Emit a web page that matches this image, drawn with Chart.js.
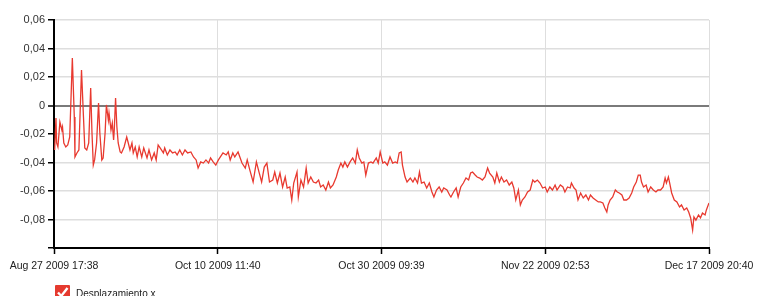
<!DOCTYPE html>
<html><head><meta charset="utf-8">
<script src="https://cdn.jsdelivr.net/npm/chart.js@4"></script>
<style>
html,body{margin:0;padding:0;background:#fff;overflow:hidden;}
#wrap{position:relative;width:762px;height:296px;overflow:hidden;}
#legend{position:absolute;left:55px;top:285px;display:flex;align-items:flex-start;font-family:"Liberation Sans",Arial,sans-serif;font-size:10px;color:#222;}
#legend .txt{margin-left:6px;margin-top:3px;}
</style></head><body>
<div id="wrap"><canvas id="c" width="762" height="296"></canvas>
<div id="legend"><svg width="15" height="15" viewBox="0 0 15 15"><rect x="0" y="0" width="15" height="15" rx="1" fill="#e53a2f"/><path d="M3 7.5 L6.3 11 L12.5 3" stroke="#fff" stroke-width="2.4" fill="none"/></svg><span class="txt">Desplazamiento x</span></div></div>
<script>
// sample position along the recorded series (0 = first reading, 1000 = last)
const samplePos = [1,3,4,6,9,12,13,15,18,21,24,28,31,32,35,38,42,45,47,50,53,56,58,60,62,65,68,70,73,75,78,80,83,84,87,89,91,92,94,96,98,101,103,107,111,113,116,119,121,124,127,130,134,137,142,145,149,153,156,159,162,
167,169,173,177,181,185,188,192,196,200,204,209,213,217,220,224,228,232,236,239,243,247,251,254,258,263,266,269,273,276,281,287,292,295,299,304,309,313,317,321,325,329,
334,337,341,345,349,353,356,360,363,366,371,373,377,381,385,388,392,396,400,404,407,411,415,419,422,426,431,434,438,441,444,448,452,456,460,463,466,470,473,476,480,484,487,492,495,498,502,505,
509,513,517,521,524,527,530,532,536,539,544,548,551,555,558,561,565,569,573,577,580,584,588,592,595,600,604,606,610,614,617,621,625,629,633,636,639,643,646,650,654,658,662,665,
670,673,676,680,683,687,691,695,699,702,705,709,712,715,719,723,727,731,734,738,742,746,750,753,757,761,765,768,773,777,780,784,788,790,794,797,800,804,808,812,816,819,823,827,831,
834,838,841,844,846,849,853,857,860,863,867,870,874,878,882,885,889,892,895,897,900,904,907,911,915,919,922,926,930,933,935,938,940,943,947,951,955,958,962,966,969,972,975,977,980,984,987,990,994,996,1000];
const desplazamientoX = [-0.0312,-0.0088,-0.0263,-0.0291,-0.0116,-0.0172,-0.0151,-0.0263,-0.0291,-0.0277,-0.0221,0.0333,-0.0081,-0.0361,-0.0333,-0.0312,0.0249,-0.0081,-0.0298,-0.0312,-0.0263,0.0123,-0.0193,-0.0418,-0.0382,-0.0263,0.0018,-0.0193,-0.0382,-0.0368,-0.0193,0.0004,-0.0102,-0.0053,-0.0172,-0.0123,-0.0242,-0.0172,0.0053,-0.0151,-0.0263,-0.0326,-0.0333,-0.0291,-0.0221,-0.0256,-0.0312,-0.0263,-0.0333,-0.0291,-0.0361,-0.0291,-0.0361,-0.0298,-0.0368,-0.0312,-0.0382,-0.0333,-0.0382,-0.0277,-0.0298,
-0.0333,-0.0298,-0.0347,-0.0312,-0.0333,-0.0326,-0.0347,-0.0312,-0.0347,-0.0312,-0.0333,-0.0326,-0.0361,-0.0382,-0.0439,-0.0396,-0.0404,-0.0382,-0.0404,-0.0368,-0.0396,-0.0418,-0.0382,-0.0361,-0.0333,-0.0347,-0.0326,-0.0382,-0.0333,-0.0361,-0.0326,-0.0404,-0.0439,-0.0382,-0.0453,-0.0537,-0.0396,-0.0467,-0.0537,-0.0432,-0.0404,-0.0537,
-0.0523,-0.0467,-0.0544,-0.0474,-0.0572,-0.0502,-0.0579,-0.0572,-0.0663,-0.0544,-0.0467,-0.0642,-0.0523,-0.0572,-0.0439,-0.0544,-0.0502,-0.0537,-0.0544,-0.0523,-0.0572,-0.0558,-0.0593,-0.0537,-0.0579,-0.0558,-0.0502,-0.0453,-0.0404,-0.0432,-0.0396,-0.0432,-0.0396,-0.0368,-0.0404,-0.0312,-0.0368,-0.0404,-0.0396,-0.0488,-0.0404,-0.0396,-0.0404,-0.0368,-0.0404,-0.0326,-0.0404,-0.0396,
-0.0418,-0.0361,-0.0404,-0.0396,-0.0404,-0.0333,-0.0326,-0.0418,-0.0502,-0.0537,-0.0509,-0.0537,-0.0509,-0.0544,-0.0467,-0.0544,-0.0537,-0.0579,-0.0544,-0.0607,-0.0642,-0.0593,-0.0572,-0.0607,-0.0579,-0.0593,-0.0628,-0.0642,-0.0607,-0.0579,-0.0642,-0.0572,-0.0544,-0.0509,-0.0523,-0.0474,-0.0467,-0.0488,-0.0502,-0.0509,-0.0523,-0.0502,-0.0439,-0.0474,
-0.0502,-0.0544,-0.0474,-0.0537,-0.0502,-0.0537,-0.0523,-0.0558,-0.0537,-0.0579,-0.0663,-0.0593,-0.0698,-0.0663,-0.0642,-0.0607,-0.0593,-0.0523,-0.0537,-0.0523,-0.0544,-0.0579,-0.0572,-0.0607,-0.0572,-0.0593,-0.0558,-0.0593,-0.0558,-0.0572,-0.0607,-0.0572,-0.0579,-0.0544,-0.0579,-0.0593,-0.0663,-0.0614,-0.0649,-0.0628,-0.0663,-0.0628,-0.0649,-0.0663,-0.0677,
-0.0677,-0.0684,-0.0719,-0.0747,-0.0698,-0.0663,-0.0642,-0.0593,-0.0607,-0.0614,-0.0628,-0.0663,-0.0663,-0.0649,-0.0614,-0.0572,-0.0537,-0.0488,-0.0488,-0.0537,-0.0572,-0.0558,-0.0607,-0.0572,-0.0593,-0.0607,-0.0593,-0.0593,-0.0572,-0.0509,-0.0544,-0.0502,-0.0544,-0.0614,-0.0663,-0.0677,-0.0712,-0.0698,-0.0733,-0.0719,-0.0747,-0.0789,-0.0874,-0.0782,-0.0804,-0.0768,-0.0789,-0.0754,-0.0768,-0.0733,-0.0684];
const xTickPositions = [0,250,500,750,1000];
const xTickLabels = ['Aug 27 2009 17:38','Oct 10 2009 11:40','Oct 30 2009 09:39','Nov 22 2009 02:53','Dec 17 2009 20:40'];
const yTickValues = [-0.1,-0.08,-0.06,-0.04,-0.02,0,0.02,0.04,0.06];

const FONT = '"Liberation Sans", Arial, sans-serif';
new Chart(document.getElementById('c'), {
  type: 'line',
  data: { datasets: [{
    label: 'Desplazamiento x',
    data: samplePos.map((x, i) => ({ x, y: desplazamientoX[i] })),
    borderColor: '#e8392f', borderWidth: 1.3, pointRadius: 0, tension: 0, fill: false
  }]},
  options: {
    responsive: false, animation: false, devicePixelRatio: 1,
    layout: { padding: { top: 20, right: 53, left: 0, bottom: 0 } },
    plugins: { legend: { display: false }, tooltip: { enabled: false } },
    scales: {
      x: {
        type: 'linear', min: 0, max: 1000,
        afterBuildTicks: s => { s.ticks = xTickPositions.map(v => ({ value: v })); },
        afterFit: s => { s.height = 48; },
        ticks: { callback: v => xTickLabels[xTickPositions.indexOf(v)] || '', maxRotation: 0, autoSkip: false, padding: 6,
                 font: { family: FONT, size: 10.5 }, color: '#222' },
        grid: { color: '#dedede', lineWidth: 1, tickColor: '#000', tickLength: 6, tickWidth: 1.5 },
        border: { color: '#000', width: 2 }
      },
      y: {
        min: -0.1, max: 0.06,
        afterBuildTicks: s => { s.ticks = yTickValues.map(v => ({ value: v })); },
        afterFit: s => { s.width = 54; },
        ticks: { callback: v => Math.abs(v) < 1e-9 ? '0' : (Math.abs(v + 0.1) < 1e-9 ? '' : v.toFixed(2).replace('.', ',')),
                 padding: 3, font: { family: FONT, size: 11 }, color: '#333' },
        grid: {
          color: c => (c.tick && Math.abs(c.tick.value) < 1e-9) ? '#7a7a7a' : '#dedede',
          lineWidth: c => (c.tick && Math.abs(c.tick.value) < 1e-9) ? 2 : 1.5,
          tickColor: '#000', tickLength: 6, tickWidth: 1.5
        },
        border: { color: '#000', width: 2 }
      }
    }
  }
});
</script>
</body></html>
